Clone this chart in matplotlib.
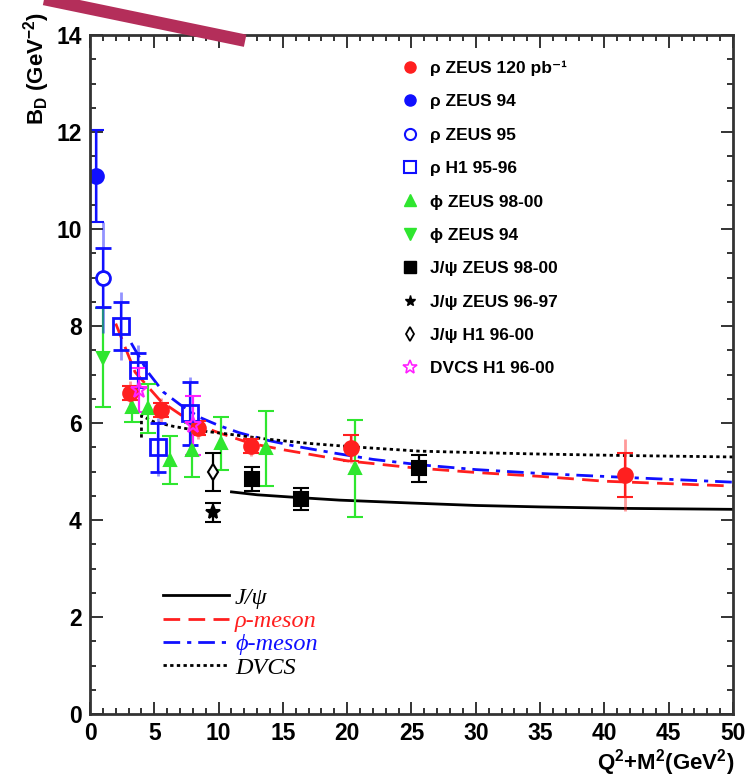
import matplotlib
matplotlib.use('Agg')
import matplotlib.pyplot as plt
from matplotlib.lines import Line2D

plt.rcParams['font.family'] = ['Liberation Sans', 'DejaVu Sans']
plt.rcParams['mathtext.fontset'] = 'custom'
plt.rcParams['mathtext.bf'] = 'Liberation Sans:bold'
plt.rcParams['mathtext.rm'] = 'Liberation Sans:bold'
plt.rcParams['mathtext.default'] = 'bf'

# data points: x = Q2+M2, y = B_D, stat / total errors
rho_z120_x = [3.1, 5.5, 8.4, 12.5, 20.3, 41.6]
rho_z120_y = [6.62, 6.27, 5.90, 5.53, 5.48, 4.93]
rho_z120_stat = [0.15, 0.15, 0.15, 0.15, 0.27, 0.45]
rho_z120_tot = [0.25, 0.25, 0.22, 0.20, 0.30, 0.75]

rho_z94_x = [0.45]
rho_z94_y = [11.1]
rho_z94_stat = [0.95]
rho_z94_tot = [0.95]

rho_z95_x = [1.0]
rho_z95_y = [9.0]
rho_z95_stat = [0.6]
rho_z95_tot = [1.15]

rho_h1_x = [2.4, 3.7, 5.3, 7.8]
rho_h1_y = [8.0, 7.1, 5.5, 6.2]
rho_h1_stat = [0.5, 0.35, 0.5, 0.65]
rho_h1_tot = [0.7, 0.5, 0.6, 0.75]

phi_z98_x = [3.3, 4.5, 6.2, 7.9, 10.2, 13.7, 20.6]
phi_z98_y = [6.33, 6.30, 5.24, 5.44, 5.58, 5.48, 5.07]
phi_z98_stat = [0.3, 0.5, 0.5, 0.55, 0.55, 0.77, 1.0]

phi_z94_x = [1.0]
phi_z94_y = [7.35]
phi_z94_stat = [1.02]

jpsi_z98_x = [12.6, 16.4, 25.6]
jpsi_z98_y = [4.85, 4.43, 5.07]
jpsi_z98_stat = [0.25, 0.22, 0.28]

jpsi_z96_x = [9.6]
jpsi_z96_y = [4.16]
jpsi_z96_stat = [0.2]

jpsi_h1_x = [9.6]
jpsi_h1_y = [4.99]
jpsi_h1_stat = [0.4]

dvcs_x = [3.8, 8.0]
dvcs_y = [6.68, 5.95]
dvcs_stat = [0.45, 0.6]

# fitted curves
jpsi_fit_x = [11, 13, 15.8, 19.4, 25, 30, 35, 41.5, 50]
jpsi_fit_y = [4.58, 4.52, 4.47, 4.41, 4.35, 4.30, 4.27, 4.24, 4.22]
rho_fit_x = [2.0, 3.5, 5.5, 8, 10, 12.5, 15, 20, 25, 30, 35, 40, 45, 50]
rho_fit_y = [8.05, 7.05, 6.45, 6.0, 5.8, 5.58, 5.45, 5.22, 5.08, 4.98, 4.9, 4.8, 4.75, 4.7]
phi_fit_x = [3.2, 4.5, 5.7, 7, 8.5, 10, 11.6, 13.7, 16, 19, 22, 25.6, 30, 35, 41.5, 50]
phi_fit_y = [7.65, 7.05, 6.64, 6.38, 6.12, 5.95, 5.8, 5.65, 5.52, 5.38, 5.25, 5.14, 5.04, 4.96, 4.88, 4.78]
dvcs_fit_x = [4.0, 4.0, 5, 6.5, 8, 10.5, 13.7, 17, 20.4, 25.6, 30, 35, 41.5, 50]
dvcs_fit_y = [5.7, 6.15, 6.02, 5.93, 5.86, 5.78, 5.67, 5.58, 5.51, 5.42, 5.39, 5.36, 5.33, 5.3]

RED = '#ff1f1f'
BLUE = '#1010ff'
GREEN = '#2fe62f'
MAG = '#ff20ff'

fig = plt.figure(figsize=(7.52, 7.83), dpi=100)
ax = fig.add_axes([0.1197, 0.0881, 0.855, 0.8672])

# curves
ax.plot(jpsi_fit_x, jpsi_fit_y, '-', color='black', lw=2)
ax.plot(rho_fit_x, rho_fit_y, '--', color=RED, lw=2, dashes=(6, 3))
ax.plot(phi_fit_x, phi_fit_y, '-.', color=BLUE, lw=2, dashes=(6, 2.5, 1.5, 2.5))
ax.plot(dvcs_fit_x, dvcs_fit_y, ':', color='black', lw=2, dashes=(1.2, 1.2))


def pts(x, y, stat, tot, color, marker, ms, mfc=None, mew=1.5):
    if tot is not None:
        ax.errorbar(x, y, yerr=tot, fmt='none', ecolor=color, alpha=0.45, lw=2)
    ax.errorbar(x, y, yerr=stat, fmt=marker, color=color, ms=ms,
                mfc=mfc if mfc else color, mec=color, mew=mew,
                ecolor=color, elinewidth=1.6, capsize=5.5, capthick=1.6)


pts(phi_z98_x, phi_z98_y, phi_z98_stat, None, GREEN, '^', 9)
pts(phi_z94_x, phi_z94_y, phi_z94_stat, None, GREEN, 'v', 9)
pts(rho_z120_x, rho_z120_y, rho_z120_stat, rho_z120_tot, RED, 'o', 10.5)
pts(rho_z94_x, rho_z94_y, rho_z94_stat, rho_z94_tot, BLUE, 'o', 10.5)
pts(rho_z95_x, rho_z95_y, rho_z95_stat, rho_z95_tot, BLUE, 'o', 10, mfc='white', mew=2)
pts(rho_h1_x, rho_h1_y, rho_h1_stat, rho_h1_tot, BLUE, 's', 11, mfc='none', mew=2)
pts(jpsi_z98_x, jpsi_z98_y, jpsi_z98_stat, None, 'black', 's', 10)
pts(jpsi_z96_x, jpsi_z96_y, jpsi_z96_stat, None, 'black', '*', 10)
pts(jpsi_h1_x, jpsi_h1_y, jpsi_h1_stat, None, 'black', 'd', 8, mfc='white')
pts(dvcs_x, dvcs_y, dvcs_stat, None, MAG, '*', 12, mfc='none')

ax.set_xlim(0, 50)
ax.set_ylim(0, 14)
ax.set_xticks(range(0, 51, 5))
ax.set_xticks(range(0, 51), minor=True)
ax.set_yticks(range(0, 15, 2))
ax.set_yticks([i * 0.5 for i in range(29)], minor=True)
ax.tick_params(which='both', direction='in', top=True, right=True, colors='#333333', width=1.4)
ax.tick_params(which='major', length=9, pad=6)
ax.tick_params(which='minor', length=4.5)
for lab in ax.get_xticklabels() + ax.get_yticklabels():
    lab.set_fontweight('bold')
    lab.set_fontsize(16.5)
    lab.set_color('black')
for sp in ax.spines.values():
    sp.set_linewidth(2)
    sp.set_color('#333333')

fig.text(0.048, 0.985, r'B$_{D}$ (GeV$^{-2}$)', rotation=90, ha='center', va='top',
         fontsize=16, fontweight='bold')
fig.text(0.977, 0.026, r'Q$^{2}$+M$^{2}$(GeV$^{2}$)', ha='right', va='center',
         fontsize=16, fontweight='bold')

# marker legend
labels = ['ρ ZEUS 120 pb⁻¹', 'ρ ZEUS 94', 'ρ ZEUS 95', 'ρ H1 95-96', 'ϕ ZEUS 98-00',
          'ϕ ZEUS 94', 'J/ψ ZEUS 98-00', 'J/ψ ZEUS 96-97', 'J/ψ H1 96-00', 'DVCS H1 96-00']
handles = [
    Line2D([], [], ls='none', marker='o', color=RED, ms=8),
    Line2D([], [], ls='none', marker='o', color=BLUE, ms=8),
    Line2D([], [], ls='none', marker='o', color=BLUE, mfc='none', ms=8, mew=1.5),
    Line2D([], [], ls='none', marker='s', color=BLUE, mfc='none', ms=8, mew=1.5),
    Line2D([], [], ls='none', marker='^', color=GREEN, ms=8),
    Line2D([], [], ls='none', marker='v', color=GREEN, ms=8),
    Line2D([], [], ls='none', marker='s', color='black', ms=8),
    Line2D([], [], ls='none', marker='*', color='black', ms=8),
    Line2D([], [], ls='none', marker='d', color='black', mfc='none', ms=7, mew=1.3),
    Line2D([], [], ls='none', marker='*', color=MAG, mfc='none', ms=10, mew=1.2),
]
leg1 = ax.legend(handles, labels, loc='upper left', bbox_to_anchor=(0.47, 0.975),
                 frameon=False, handlelength=1.0, handletextpad=0.7, labelspacing=1.05,
                 borderpad=0, prop={'weight': 'bold', 'size': 12.5})
ax.add_artist(leg1)

# curve legend
lhandles = [
    Line2D([], [], color='black', lw=2),
    Line2D([], [], color=RED, lw=2, ls='--', dashes=(6, 3)),
    Line2D([], [], color=BLUE, lw=2, ls='-.', dashes=(6, 2.5, 1.5, 2.5)),
    Line2D([], [], color='black', lw=2, ls=':', dashes=(1.2, 1.2)),
]
llabels = ['J/ψ', 'ρ-meson', 'ϕ-meson', 'DVCS']
leg2 = ax.legend(lhandles, llabels, loc='upper left', bbox_to_anchor=(0.095, 0.205),
                 frameon=False, handlelength=2.7, handletextpad=0.25, labelspacing=0.05,
                 borderpad=0, prop={'family': 'Liberation Serif', 'style': 'italic', 'size': 17.5})
for t, c in zip(leg2.get_texts(), ['black', RED, BLUE, 'black']):
    t.set_color(c)

# slanted marker stroke over the top-left corner
fig.add_artist(Line2D([0.04, 0.326], [1.005, 0.948], lw=9, color='#b42e5a',
                      solid_capstyle='butt', transform=fig.transFigure))

fig.savefig('out.png', dpi=100)
